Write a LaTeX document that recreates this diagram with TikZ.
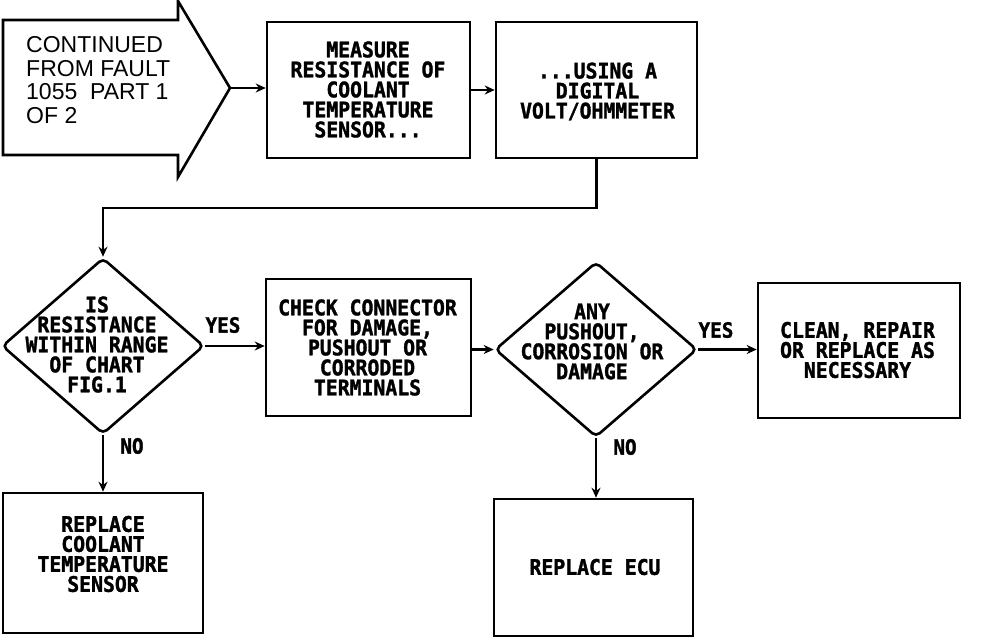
\documentclass[tikz,border=0pt]{standalone}
\usepackage{fontspec}
\setmainfont{Liberation Sans}
\newfontfamily\plotfont[FakeStretch=0.92,FakeBold=1.5]{DejaVu Sans Mono Bold}
\usetikzlibrary{arrows.meta,shapes.geometric}
\tikzset{
  box/.style={draw, line width=2.6pt, rectangle, inner sep=0pt},
  dia/.style={draw, line width=2.6pt, diamond, inner sep=0pt, rounded corners=5pt},
  txt/.style={align=center, inner sep=0pt, font=\plotfont\fontsize{21.5}{20}\selectfont},
  lbl/.style={inner sep=0pt, font=\plotfont\fontsize{21}{20}\selectfont},
  arr/.style={line width=2.4pt, -{Stealth[length=10pt,width=9pt]}},
}
\begin{document}
\begin{tikzpicture}[x=1pt,y=-1pt]
\useasboundingbox (0,0) rectangle (992,640);
% block arrow start
\draw[line width=2.6pt, line join=miter] (3,20) -- (178,20) -- (178,1) -- (230,88) -- (178,177) -- (178,155) -- (3,155) -- cycle;
\coordinate (tip) at (230,88);
\node[anchor=west, align=left, inner sep=0pt, font=\fontsize{23}{23.7}\selectfont] (start) at (26,80)
  {CONTINUED\\FROM FAULT\\1055\ \ PART 1\\OF 2};
% boxes
\node[box, minimum width=203pt, minimum height=136pt] (b2) at (368.5,90) {};
\node[box, minimum width=201pt, minimum height=136pt] (b3) at (596.5,90) {};
\node[box, minimum width=205pt, minimum height=137pt] (b4) at (368.5,347.5) {};
\node[box, minimum width=202pt, minimum height=135pt] (b5) at (859,350.5) {};
\node[box, minimum width=200pt, minimum height=140pt] (b6) at (103,563) {};
\node[box, minimum width=199pt, minimum height=137pt] (b7) at (593.5,567.5) {};
% diamonds
\node[dia, minimum width=202pt, minimum height=176pt] (d1) at (103,346) {};
\node[dia, minimum width=202pt, minimum height=175pt] (d2) at (596,349.5) {};
% texts
\node[txt] (t2) at (368,89.5) {MEASURE\\RESISTANCE OF\\COOLANT\\TEMPERATURE\\SENSOR...};
\node[txt] (t3) at (597.5,91.5) {...USING A\\DIGITAL\\VOLT/OHMMETER};
\node[txt] (td1) at (97,344.5) {IS\\RESISTANCE\\WITHIN RANGE\\OF CHART\\FIG.1};
\node[txt] (t4) at (367.5,347.5) {CHECK CONNECTOR\\FOR DAMAGE,\\PUSHOUT OR\\CORRODED\\TERMINALS};
\node[txt] (td2) at (592,341.5) {ANY\\PUSHOUT,\\CORROSION OR\\DAMAGE};
\node[txt] (t5) at (857.5,350) {CLEAN, REPAIR\\OR REPLACE AS\\NECESSARY};
\node[txt] (t6) at (103,554) {REPLACE\\COOLANT\\TEMPERATURE\\SENSOR};
\node[txt] (t7) at (595,567) {REPLACE ECU};
% labels
\node[lbl] (yes1) at (223,325) {YES};
\node[lbl] (no1) at (132,446) {NO};
\node[lbl] (yes2) at (716,330) {YES};
\node[lbl] (no2) at (625,447) {NO};
% connectors
\draw[arr] (tip) -- (b2.west |- tip);
\draw[arr] (b2.east) -- (b3.west |- b2.east);
\coordinate (bend) at (0,208);
\draw[arr, line join=miter] (b3.south) -- (b3.south |- bend) -| (d1.north);
\draw[arr] (d1.east) -- (b4.west |- d1.east);
\draw[arr] (b4.east |- d2.west) -- (d2.west);
\draw[arr] (d2.east) -- (b5.west |- d2.east);
\draw[arr] (d1.south) -- (d1.south |- b6.north);
\draw[arr] (d2.south) -- (d2.south |- b7.north);
\end{tikzpicture}
\end{document}
